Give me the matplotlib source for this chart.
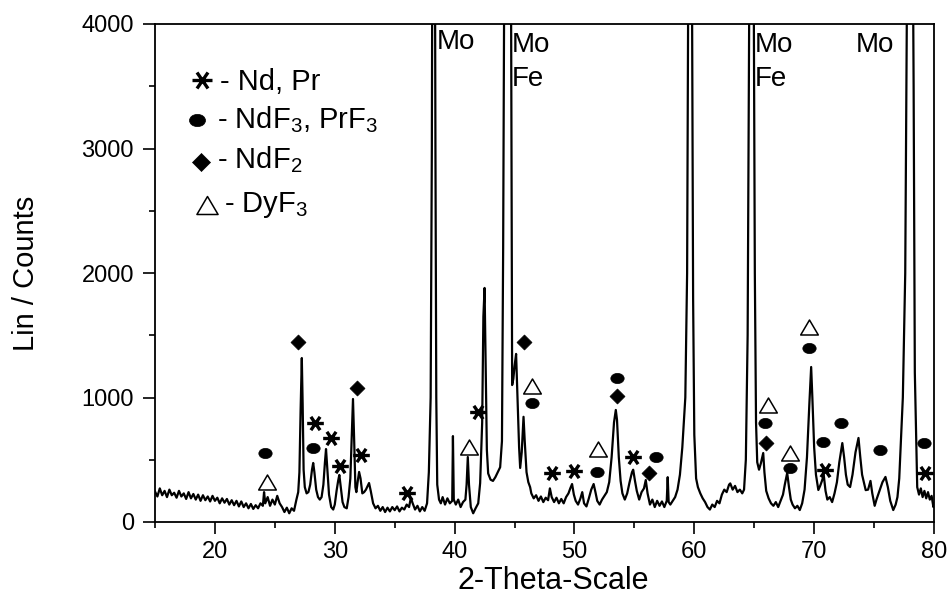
import numpy as np
import matplotlib
matplotlib.use("Agg")
import matplotlib.pyplot as plt
from matplotlib.path import Path
from matplotlib.transforms import Affine2D

plt.rcParams['font.family'] = 'Liberation Sans'
plt.rcParams['mathtext.fontset'] = 'custom'
plt.rcParams['mathtext.rm'] = 'Liberation Sans'
plt.rcParams['mathtext.it'] = 'Liberation Sans'

# XRD scan: (2-theta, counts). Mo/Fe reflections run far off the top of the plot
pattern = [
    (15.0, 245), (15.2, 205), (15.4, 270), (15.6, 215), (15.8, 250), (16.0, 200),
    (16.2, 260), (16.4, 215), (16.6, 235), (16.8, 195), (17.0, 250), (17.2, 205),
    (17.4, 230), (17.6, 185), (17.8, 240), (18.0, 190), (18.2, 225), (18.4, 180),
    (18.6, 220), (18.8, 170), (19.0, 215), (19.2, 175), (19.4, 205), (19.6, 165),
    (19.8, 210), (20.0, 170), (20.2, 195), (20.4, 150), (20.6, 190), (20.8, 155),
    (21.0, 185), (21.2, 140), (21.4, 175), (21.6, 135), (21.8, 170), (22.0, 125),
    (22.2, 165), (22.4, 120), (22.6, 150), (22.8, 110), (23.0, 145), (23.2, 105),
    (23.4, 135), (23.6, 110), (23.8, 150), (24.0, 130), (24.1, 240), (24.2, 150),
    (24.4, 200), (24.6, 130), (24.8, 180), (25.0, 140), (25.2, 210), (25.4, 150),
    (25.6, 120), (25.8, 80), (26.0, 115), (26.2, 70), (26.4, 110), (26.6, 90),
    (26.8, 180), (26.95, 240),
    (27.05, 400), (27.15, 900), (27.25, 1317), (27.32, 950), (27.4, 420), (27.5, 280),
    (27.65, 230), (27.8, 240), (27.95, 300), (28.1, 420), (28.2, 474), (28.3, 400),
    (28.45, 260), (28.6, 200), (28.75, 180), (28.9, 200), (29.05, 300), (29.18, 480),
    (29.27, 586), (29.38, 420), (29.52, 220), (29.7, 120), (29.87, 100), (30.0, 140),
    (30.15, 250), (30.28, 330), (30.38, 378), (30.5, 280), (30.65, 160), (30.8, 120),
    (31.0, 110), (31.15, 200), (31.3, 350), (31.42, 700), (31.52, 988), (31.62, 650),
    (31.72, 280), (31.8, 240), (31.92, 330), (32.03, 402), (32.15, 350), (32.3, 230),
    (32.45, 240), (32.6, 260), (32.75, 290), (32.86, 313), (33.0, 250), (33.2, 150),
    (33.4, 110), (33.6, 130), (33.8, 90), (34.0, 120), (34.2, 80), (34.4, 115),
    (34.6, 85), (34.8, 120), (35.0, 95), (35.2, 125), (35.4, 85), (35.6, 115),
    (35.8, 100), (36.0, 140), (36.2, 120), (36.35, 195), (36.5, 150), (36.7, 100),
    (36.9, 130), (37.1, 85), (37.3, 120), (37.5, 90), (37.7, 150), (37.85, 400),
    (38.0, 1000), (38.1, 3000), (38.15, 5000), (38.25, 9000), (38.35, 5000), (38.4, 3000),
    (38.47, 1000), (38.55, 300), (38.7, 180), (38.85, 150), (39.0, 200), (39.2, 140),
    (39.4, 190), (39.6, 150), (39.8, 170), (39.86, 690), (39.93, 180), (40.1, 140),
    (40.3, 180), (40.5, 120), (40.7, 160), (40.9, 180), (41.0, 300), (41.1, 522),
    (41.2, 300), (41.35, 120), (41.55, 70), (41.75, 110), (41.97, 150), (42.13, 313),
    (42.3, 800), (42.4, 1650), (42.5, 1880), (42.6, 1200), (42.69, 580), (42.8, 390),
    (43.0, 340), (43.2, 330), (43.4, 360), (43.6, 400), (43.8, 440), (43.95, 650),
    (44.05, 2200), (44.12, 3900), (44.25, 7000), (44.42, 9000), (44.6, 7000), (44.72, 3900),
    (44.8, 1100), (44.9, 1150), (45.0, 1250), (45.13, 1350), (45.25, 1000), (45.38, 600),
    (45.47, 434), (45.6, 560), (45.75, 845), (45.85, 650), (46.0, 400), (46.15, 320),
    (46.3, 280), (46.4, 230), (46.6, 190), (46.8, 215), (47.0, 170), (47.2, 205),
    (47.4, 160), (47.6, 195), (47.8, 175), (47.95, 270), (48.1, 200), (48.3, 160),
    (48.5, 195), (48.7, 150), (48.9, 185), (49.1, 150), (49.3, 200), (49.5, 230),
    (49.65, 270), (49.8, 305), (49.95, 220), (50.1, 170), (50.3, 140), (50.5, 190),
    (50.65, 240), (50.8, 150), (51.0, 125), (51.2, 190), (51.4, 260), (51.6, 305),
    (51.75, 240), (51.9, 170), (52.1, 140), (52.3, 180), (52.5, 210), (52.7, 240),
    (52.9, 320), (53.1, 520), (53.3, 800), (53.45, 900), (53.55, 820), (53.7, 520),
    (53.85, 330), (54.0, 230), (54.2, 180), (54.4, 230), (54.6, 320), (54.8, 400),
    (54.9, 420), (55.05, 330), (55.2, 250), (55.4, 180), (55.6, 240), (55.8, 270),
    (55.95, 337), (56.1, 230), (56.3, 140), (56.5, 180), (56.7, 120), (56.9, 170),
    (57.1, 130), (57.3, 165), (57.5, 120), (57.7, 170), (57.78, 360), (57.86, 160),
    (58.0, 140), (58.2, 170), (58.4, 200), (58.6, 260), (58.8, 380), (59.0, 600),
    (59.25, 1000), (59.4, 2000), (59.5, 4500), (59.65, 9000), (59.8, 4500), (59.9, 1800),
    (60.0, 700), (60.15, 350), (60.3, 280), (60.5, 230), (60.7, 190), (60.9, 160),
    (61.1, 120), (61.3, 100), (61.5, 140), (61.7, 120), (61.9, 170), (62.1, 150),
    (62.3, 220), (62.5, 260), (62.7, 240), (62.9, 300), (63.0, 310), (63.2, 260),
    (63.4, 290), (63.6, 240), (63.8, 260), (64.0, 230), (64.15, 260), (64.3, 500),
    (64.45, 1500), (64.6, 4500), (64.8, 9000), (64.95, 4500), (65.05, 2000), (65.15, 800),
    (65.25, 480), (65.4, 420), (65.55, 470), (65.75, 554), (65.85, 400), (66.0, 250),
    (66.2, 190), (66.4, 150), (66.6, 130), (66.8, 160), (67.0, 120), (67.2, 170),
    (67.4, 220), (67.55, 300), (67.75, 394), (67.9, 280), (68.05, 180), (68.2, 140),
    (68.4, 110), (68.6, 130), (68.8, 96), (69.0, 150), (69.2, 260), (69.4, 520),
    (69.6, 950), (69.75, 1245), (69.85, 1000), (70.0, 600), (70.15, 380), (70.35, 257),
    (70.5, 290), (70.65, 330), (70.8, 378), (70.95, 250), (71.1, 180), (71.3, 200),
    (71.5, 160), (71.7, 230), (71.9, 320), (72.1, 480), (72.35, 634), (72.5, 520),
    (72.65, 380), (72.8, 300), (73.0, 281), (73.2, 380), (73.45, 560), (73.7, 675),
    (73.85, 520), (74.0, 380), (74.3, 256), (74.5, 260), (74.7, 330), (74.85, 230),
    (75.05, 130), (75.2, 180), (75.45, 250), (75.7, 320), (75.95, 362), (76.15, 280),
    (76.35, 170), (76.6, 96), (76.8, 140), (76.95, 200), (77.1, 350), (77.4, 1000),
    (77.6, 2000), (77.7, 3500), (77.85, 6000), (78.0, 9000), (78.15, 6000), (78.3, 3500),
    (78.4, 1200), (78.6, 280), (78.75, 220), (78.9, 270), (79.05, 200), (79.2, 250),
    (79.35, 190), (79.5, 240), (79.65, 180), (79.8, 210), (79.95, 120), (80.0, 150),
]

# phase markers (2-theta, counts)
nd_pr_x = [28.36, 29.69, 30.44, 32.17, 36.01, 41.99, 48.11, 49.92, 54.87, 70.93, 79.27]
nd_pr_y = [797, 672, 452, 538, 230, 880, 391, 412, 524, 418, 391]
ndf3_x = [24.18, 28.21, 46.43, 51.92, 53.53, 56.82, 65.92, 68.0, 69.53, 70.73, 72.23, 75.52, 79.19]
ndf3_y = [552, 592, 958, 404, 1159, 520, 793, 436, 1400, 640, 797, 578, 632]
ndf2_x = [26.96, 31.89, 45.8, 53.53, 56.18, 66.0]
ndf2_y = [1448, 1076, 1448, 1014, 396, 632]
dyf3_x = [24.38, 41.24, 46.43, 52.0, 66.11, 67.95, 69.53]
dyf3_y = [324, 605, 1092, 584, 940, 552, 1568]

# labels on the off-scale reflections: (text, 2-theta, counts at top of text)
peak_labels = [("Mo", 38.5, 3960), ("Mo", 44.75, 3935), ("Fe", 44.75, 3665),
               ("Mo", 65.05, 3935), ("Fe", 65.05, 3665), ("Mo", 73.45, 3935)]

legend_labels = ["- Nd, Pr", r"- NdF$_3$, PrF$_3$", r"- NdF$_2$", r"- DyF$_3$"]

tt = np.array([p[0] for p in pattern])
cts = np.array([p[1] for p in pattern])

# marker shapes
M, L, C = Path.MOVETO, Path.LINETO, Path.CLOSEPOLY
ellipse = Path.unit_circle().transformed(Affine2D().scale(1.3, 1.0))
diamond = Path([(0, 1), (1, 0), (0, -1), (-1, 0), (0, 1)], [M, L, L, L, C])
triangle = Path([(-1, -0.85), (1, -0.85), (0, 0.85), (-1, -0.85)], [M, L, L, C])
aster = Path([(-1, 0), (1, 0), (-0.55, -0.8), (0.55, 0.8), (-0.55, 0.8), (0.55, -0.8)],
             [M, L, M, L, M, L])

styles = [
    dict(marker=aster, ms=12, mfc='none', mec='black', mew=2.4),
    dict(marker=ellipse, ms=9.6, mfc='black', mec='black', mew=0.5),
    dict(marker=diamond, ms=10.8, mfc='black', mec='black', mew=0.5),
    dict(marker=triangle, ms=12.7, mfc='white', mec='black', mew=1.1),
]

fig = plt.figure(figsize=(9.48, 5.97), dpi=100)
ax = fig.add_axes([155 / 948, 75 / 597, 779 / 948, 498 / 597])

ax.plot(tt, cts, color='black', lw=1.6, zorder=2)

for (xs, ys), st in zip([(nd_pr_x, nd_pr_y), (ndf3_x, ndf3_y), (ndf2_x, ndf2_y), (dyf3_x, dyf3_y)], styles):
    ax.plot(xs, ys, ls='none', zorder=3, **st)

for txt, x, y in peak_labels:
    ax.text(x, y, txt, fontsize=20, ha='left', va='top', zorder=4)

# legend block drawn by hand
leg_mx = [0.060, 0.0536, 0.0587, 0.0664]
leg_my = [0.8876, 0.807, 0.723, 0.6365]
leg_tx = [0.084, 0.079, 0.079, 0.089]
leg_ty = [0.8675, 0.791, 0.711, 0.6225]
for i, st in enumerate(styles):
    s = dict(st)
    s['ms'] = st['ms'] * 1.2
    ax.plot([leg_mx[i]], [leg_my[i]], transform=ax.transAxes, ls='none', clip_on=False, **s)
    ax.text(leg_tx[i], leg_ty[i], legend_labels[i], transform=ax.transAxes,
            fontsize=21, ha='left', va='baseline')

ax.set_xlim(15, 80)
ax.set_ylim(0, 4000)
ax.set_xticks(np.arange(20, 81, 10))
ax.set_xticks(np.arange(15, 81, 5), minor=True)
ax.set_yticks(np.arange(0, 4001, 1000))
ax.set_yticks(np.arange(0, 4001, 500), minor=True)
ax.tick_params(which='major', direction='out', length=8.6, width=1.2, labelsize=17, pad=5)
ax.tick_params(axis='y', which='major', pad=6.5)
ax.tick_params(which='minor', direction='out', length=4.3, width=1.2)
for sp in ax.spines.values():
    sp.set_linewidth(1.3)

ax.set_ylabel("Lin / Counts", fontsize=21)
ax.set_xlabel("2-Theta-Scale", fontsize=22)
ax.yaxis.set_label_coords(-0.147, 0.5)
ax.xaxis.set_label_coords(0.511, -0.088)

plt.savefig("out.png", dpi=100)
